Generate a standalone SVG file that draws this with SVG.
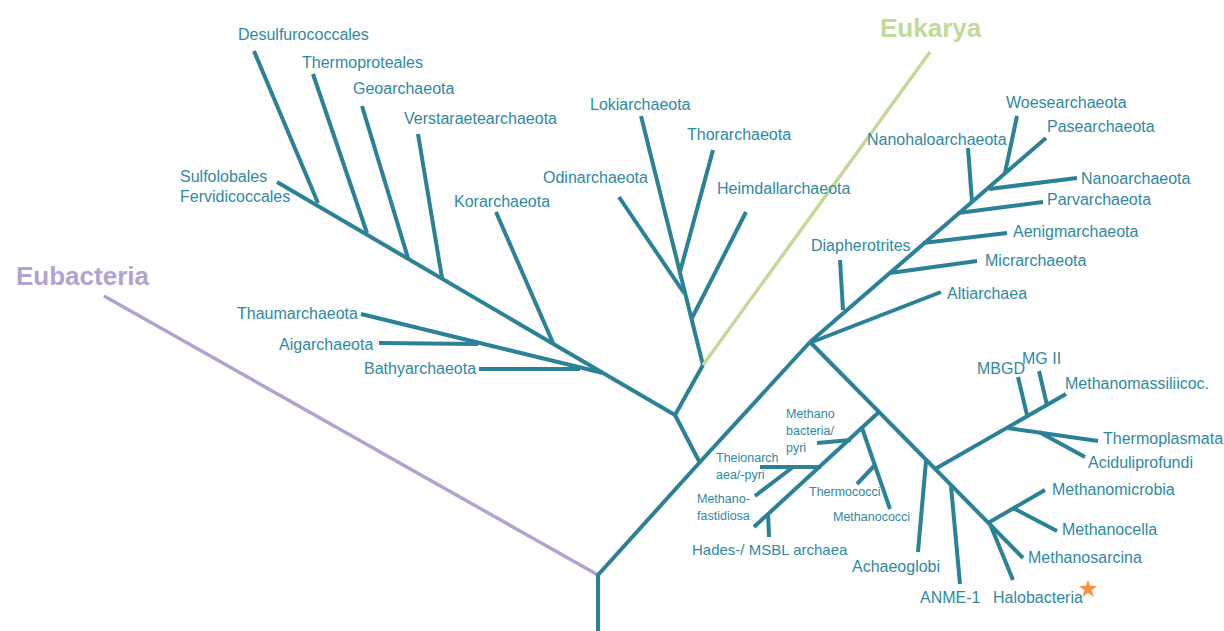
<svg xmlns="http://www.w3.org/2000/svg" width="1224" height="631" viewBox="0 0 1224 631">
<style>
.br{stroke:#2b8297;stroke-width:4;fill:none;stroke-linecap:butt;stroke-linejoin:round}
.euk{stroke:#c3d99a;stroke-width:3.5;fill:none}
.bac{stroke:#b3a2cf;stroke-width:3.5;fill:none}
.t{font-family:"Liberation Sans",Arial,sans-serif;font-size:16px;fill:#3089a0}
.s{font-family:"Liberation Sans",Arial,sans-serif;font-size:12.5px;fill:#3089a0}
.big{font-family:"Liberation Sans",Arial,sans-serif;font-size:26px;font-weight:bold}
</style>
<rect width="1224" height="631" fill="#ffffff"/>
<g id="connectors">
  <line class="bac" x1="104" y1="296" x2="598" y2="575"/>
  <polyline class="br" points="598,631 598,575 700,462 810,342"/>
  <line class="br" x1="700" y1="463" x2="675" y2="415"/>
  <line class="br" x1="675" y1="415" x2="603" y2="373"/>
  <line class="br" x1="277" y1="182" x2="603" y2="373"/>
  <line class="br" x1="254" y1="51" x2="318" y2="203"/>
  <line class="br" x1="313" y1="74" x2="367" y2="233"/>
  <line class="br" x1="362" y1="106" x2="408" y2="258"/>
  <line class="br" x1="418" y1="134" x2="442" y2="278"/>
  <line class="br" x1="496" y1="212" x2="553" y2="343"/>
  <line class="br" x1="361" y1="314" x2="603" y2="373"/>
  <line class="br" x1="379" y1="343" x2="478" y2="344"/>
  <line class="br" x1="479" y1="369" x2="580" y2="369"/>
  <line class="br" x1="675" y1="415" x2="703" y2="365"/>
  <line class="br" x1="641" y1="116" x2="703" y2="365"/>
  <line class="br" x1="713" y1="150" x2="680" y2="272"/>
  <line class="br" x1="619" y1="197" x2="684" y2="293"/>
  <line class="br" x1="746" y1="212" x2="692" y2="318"/>
  <line class="euk" x1="703" y1="365" x2="930" y2="52"/>
  <line class="br" x1="810" y1="342" x2="1046" y2="138"/>
  <line class="br" x1="840" y1="260" x2="843" y2="310"/>
  <line class="br" x1="941" y1="292" x2="812" y2="342"/>
  <line class="br" x1="977" y1="261" x2="890" y2="273"/>
  <line class="br" x1="1007" y1="233" x2="923" y2="243"/>
  <line class="br" x1="1043" y1="202" x2="958" y2="213"/>
  <line class="br" x1="968" y1="148" x2="972" y2="202"/>
  <line class="br" x1="1077" y1="178" x2="989" y2="189"/>
  <line class="br" x1="1017" y1="116" x2="1005" y2="173"/>
  <line class="br" x1="810" y1="342" x2="1023" y2="558"/>
  <line class="br" x1="879" y1="412" x2="754" y2="527"/>
  <line class="br" x1="768" y1="513" x2="769" y2="537"/>
  <line class="br" x1="760" y1="467" x2="821" y2="467"/>
  <line class="br" x1="755" y1="496" x2="793" y2="467"/>
  <line class="br" x1="817" y1="443" x2="851" y2="440"/>
  <line class="br" x1="862" y1="428" x2="890" y2="509"/>
  <line class="br" x1="875" y1="465" x2="857" y2="484"/>
  <line class="br" x1="935" y1="469" x2="1066" y2="394"/>
  <line class="br" x1="1018" y1="377" x2="1027" y2="415"/>
  <line class="br" x1="1039" y1="371" x2="1047" y2="405"/>
  <line class="br" x1="1007" y1="428" x2="1098" y2="441"/>
  <line class="br" x1="1039" y1="432" x2="1085" y2="457"/>
  <line class="br" x1="926" y1="461" x2="918" y2="552"/>
  <line class="br" x1="951" y1="486" x2="960" y2="584"/>
  <line class="br" x1="988" y1="523" x2="1045" y2="490"/>
  <line class="br" x1="1013" y1="508" x2="1057" y2="531"/>
  <line class="br" x1="990" y1="524" x2="1013" y2="580"/>
</g>
<g id="eukarya"><text class="big" fill="#c3d99a" x="880" y="37">Eukarya</text></g>
<g id="eubacteria"><text class="big" fill="#b3a2cf" x="16" y="285">Eubacteria</text></g>
<g id="desulfurococcales"><text class="t" x="238" y="40">Desulfurococcales</text></g>
<g id="thermoproteales"><text class="t" x="302" y="68">Thermoproteales</text></g>
<g id="geoarchaeota"><text class="t" x="353" y="94">Geoarchaeota</text></g>
<g id="verstraetearchaeota"><text class="t" x="404" y="124">Verstaraetearchaeota</text></g>
<g id="sulfolobales"><text class="t" x="180" y="182">Sulfolobales</text><text class="t" x="180" y="202">Fervidicoccales</text></g>
<g id="korarchaeota"><text class="t" x="454" y="207">Korarchaeota</text></g>
<g id="lokiarchaeota"><text class="t" x="590" y="110">Lokiarchaeota</text></g>
<g id="thorarchaeota"><text class="t" x="687" y="140">Thorarchaeota</text></g>
<g id="odinarchaeota"><text class="t" x="543" y="183">Odinarchaeota</text></g>
<g id="heimdallarchaeota"><text class="t" x="717" y="194">Heimdallarchaeota</text></g>
<g id="thaumarchaeota"><text class="t" x="237" y="319">Thaumarchaeota</text></g>
<g id="aigarchaeota"><text class="t" x="279" y="350">Aigarchaeota</text></g>
<g id="bathyarchaeota"><text class="t" x="364" y="374">Bathyarchaeota</text></g>
<g id="woesearchaeota"><text class="t" x="1006" y="108">Woesearchaeota</text></g>
<g id="pasearchaeota"><text class="t" x="1047" y="132">Pasearchaeota</text></g>
<g id="nanohaloarchaeota"><text class="t" x="867" y="145">Nanohaloarchaeota</text></g>
<g id="nanoarchaeota"><text class="t" x="1081" y="184">Nanoarchaeota</text></g>
<g id="parvarchaeota"><text class="t" x="1047" y="205">Parvarchaeota</text></g>
<g id="aenigmarchaeota"><text class="t" x="1013" y="237">Aenigmarchaeota</text></g>
<g id="diapherotrites"><text class="t" x="811" y="251">Diapherotrites</text></g>
<g id="micrarchaeota"><text class="t" x="985" y="266">Micrarchaeota</text></g>
<g id="altiarchaea"><text class="t" x="947" y="299">Altiarchaea</text></g>
<g id="mbgd"><text class="t" x="977" y="374">MBGD</text></g>
<g id="mgii"><text class="t" x="1022" y="364">MG II</text></g>
<g id="methanomassiliicoc"><text class="t" x="1065" y="389">Methanomassiliicoc.</text></g>
<g id="thermoplasmata"><text class="t" x="1103" y="444">Thermoplasmata</text></g>
<g id="aciduliprofundi"><text class="t" x="1088" y="468">Aciduliprofundi</text></g>
<g id="methanomicrobia"><text class="t" x="1052" y="495">Methanomicrobia</text></g>
<g id="methanocella"><text class="t" x="1062" y="535">Methanocella</text></g>
<g id="methanosarcina"><text class="t" x="1028" y="563">Methanosarcina</text></g>
<g id="halobacteria"><text class="t" x="993" y="603">Halobacteria</text>
  <polygon fill="#f5923e" points="1088,579.5 1090.2,586 1097,586 1091.6,590.2 1093.6,597 1088,592.8 1082.4,597 1084.4,590.2 1079,586 1085.8,586"/></g>
<g id="anme1"><text class="t" x="920" y="603">ANME-1</text></g>
<g id="achaeoglobi"><text class="t" x="852" y="572">Achaeoglobi</text></g>
<g id="methanobacteria"><text class="s" x="786" y="418">Methano</text><text class="s" x="786" y="435">bacteria/</text><text class="s" x="786" y="452">pyri</text></g>
<g id="theionarchaea"><text class="s" x="716" y="462">Theionarch</text><text class="s" x="716" y="479">aea/-pyri</text></g>
<g id="methanofastidiosa"><text class="s" x="697" y="503">Methano-</text><text class="s" x="697" y="520">fastidiosa</text></g>
<g id="thermococci"><text class="s" x="809" y="496">Thermococci</text></g>
<g id="methanococci"><text class="s" x="833" y="521">Methanococci</text></g>
<g id="hades"><text class="t" style="font-size:15px" x="692" y="555">Hades-/ MSBL archaea</text></g>
</svg>
